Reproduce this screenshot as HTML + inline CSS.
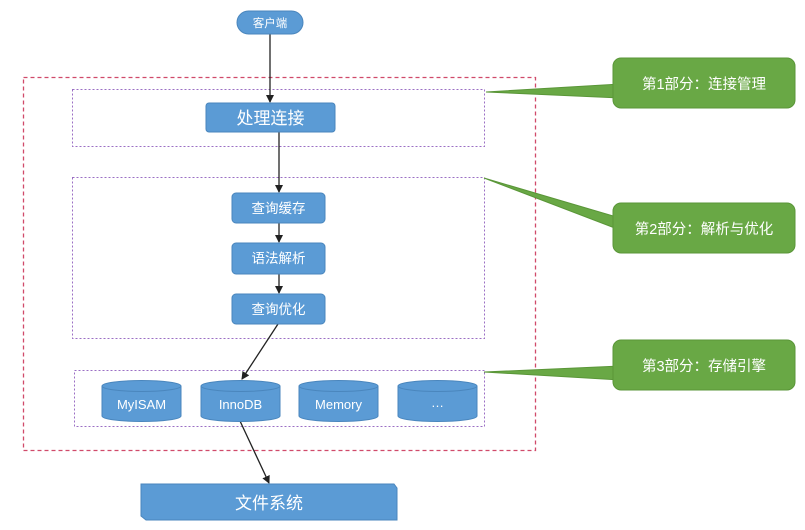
<!DOCTYPE html>
<html><head><meta charset="utf-8"><style>
html,body{margin:0;padding:0;background:#fff;}
svg{display:block;font-family:"Liberation Sans","Noto Sans CJK SC",sans-serif;}
</style></head><body>
<svg width="805" height="530" viewBox="0 0 805 530" xmlns="http://www.w3.org/2000/svg">
<defs>
<marker id="ar" markerWidth="8" markerHeight="8" refX="7" refY="4" orient="auto" markerUnits="userSpaceOnUse">
<path d="M0,0 L8,4 L0,8 z" fill="#222"/></marker>
</defs>
<rect width="805" height="530" fill="#fff"/>
<rect x="23.5" y="77.5" width="512" height="373" fill="none" stroke="#d04a6a" stroke-width="1.3" stroke-dasharray="4,3"/>
<rect x="72.5" y="89.5" width="412" height="57" fill="none" stroke="#9b6fc4" stroke-width="1" stroke-dasharray="2,2"/>
<rect x="72.5" y="177.5" width="412" height="161" fill="none" stroke="#9b6fc4" stroke-width="1" stroke-dasharray="2,2"/>
<rect x="74.5" y="370.5" width="410" height="56" fill="none" stroke="#9b6fc4" stroke-width="1" stroke-dasharray="2,2"/>
<g fill="#69a845" stroke="#5a9638" stroke-width="1">
<path d="M486,92 L620,84 L620,98 Z"/>
<rect x="613" y="58" width="182" height="50" rx="8"/>
<path d="M484,178 L620,218 L620,230 Z"/>
<rect x="613" y="203" width="182" height="50" rx="8"/>
<path d="M484,372 L620,366 L620,380 Z"/>
<rect x="613" y="340" width="182" height="50" rx="8"/>
</g>
<g fill="#fff" font-size="14.5" text-anchor="middle">
<text x="704" y="89">第1部分：连接管理</text>
<text x="704" y="234">第2部分：解析与优化</text>
<text x="704" y="371">第3部分：存储引擎</text>
</g>
<g stroke="#222" stroke-width="1.3" fill="none">
<line x1="270" y1="34" x2="270" y2="102" marker-end="url(#ar)"/>
<line x1="279" y1="132" x2="279" y2="192" marker-end="url(#ar)"/>
<line x1="279" y1="223" x2="279" y2="242" marker-end="url(#ar)"/>
<line x1="279" y1="274" x2="279" y2="293" marker-end="url(#ar)"/>
<line x1="278" y1="324" x2="242" y2="379" marker-end="url(#ar)"/>
<line x1="240" y1="421" x2="269" y2="483" marker-end="url(#ar)"/>
</g>
<rect x="237" y="11" width="66" height="23" rx="11.5" fill="#5b9bd5" stroke="#4a86bd"/>
<text x="270" y="27" fill="#fff" font-size="11.5" text-anchor="middle">客户端</text>
<g fill="#5b9bd5" stroke="#4a86bd">
<rect x="206" y="103" width="129" height="29" rx="3"/>
<rect x="232" y="193" width="93" height="30" rx="4"/>
<rect x="232" y="243" width="93" height="31" rx="4"/>
<rect x="232" y="294" width="93" height="30" rx="4"/>
</g>
<g fill="#fff" text-anchor="middle">
<text x="270.5" y="124" font-size="17">处理连接</text>
<text x="278.5" y="213" font-size="13.5">查询缓存</text>
<text x="278.5" y="263" font-size="13.5">语法解析</text>
<text x="278.5" y="314" font-size="13.5">查询优化</text>
</g>
<g fill="#5b9bd5" stroke="#4a86bd">
<path d="M102,386 v30 a39.5,5.5 0 0 0 79,0 v-30"/><ellipse cx="141.5" cy="386" rx="39.5" ry="5.5"/>
<path d="M201,386 v30 a39.5,5.5 0 0 0 79,0 v-30"/><ellipse cx="240.5" cy="386" rx="39.5" ry="5.5"/>
<path d="M299,386 v30 a39.5,5.5 0 0 0 79,0 v-30"/><ellipse cx="338.5" cy="386" rx="39.5" ry="5.5"/>
<path d="M398,386 v30 a39.5,5.5 0 0 0 79,0 v-30"/><ellipse cx="437.5" cy="386" rx="39.5" ry="5.5"/>
</g>
<g fill="#fff" font-size="13" text-anchor="middle">
<text x="141.5" y="409">MyISAM</text>
<text x="240.5" y="409">InnoDB</text>
<text x="338.5" y="409">Memory</text>
<text x="437.5" y="407">…</text>
</g>
<path d="M141,484 L394,484 L397,488 L397,520 L146,520 L141,516 Z" fill="#5b9bd5" stroke="#4a86bd"/>
<text x="269" y="509" fill="#fff" font-size="17" text-anchor="middle">文件系统</text>
</svg>
</body></html>
